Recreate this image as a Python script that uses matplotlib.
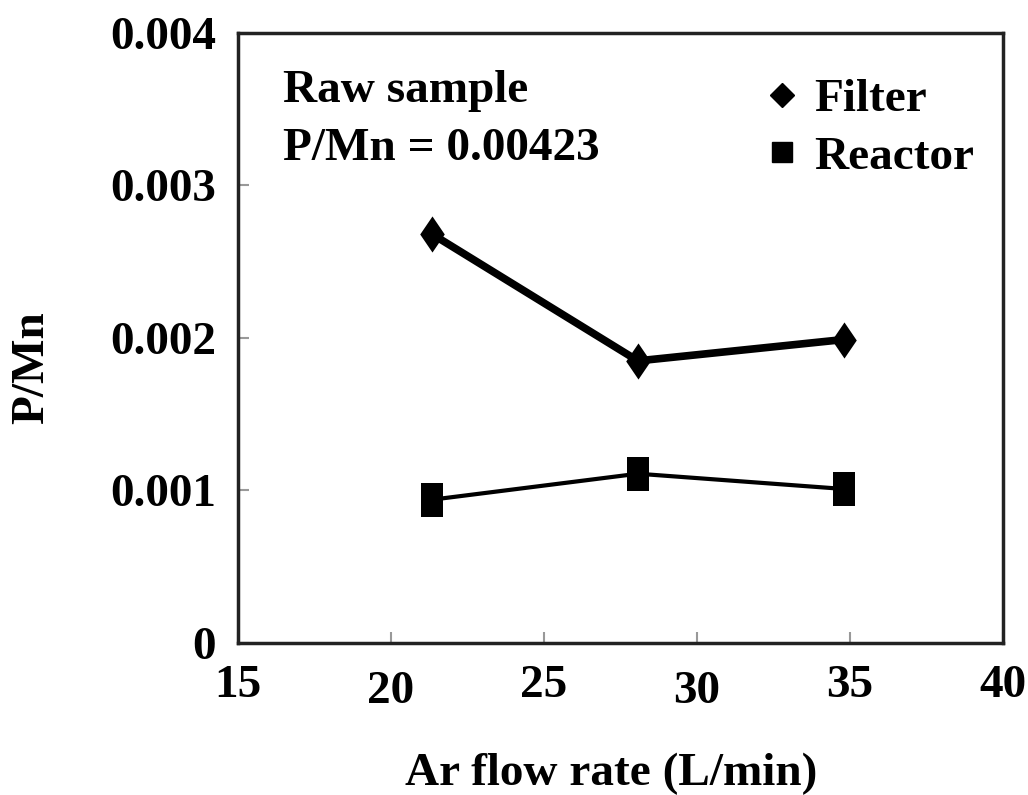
import matplotlib.pyplot as plt
from matplotlib.lines import Line2D

# data
flow_rate = [21.35, 28.07, 34.8]
filter_pmn = [0.00268, 0.00185, 0.00199]
reactor_pmn = [0.00094, 0.00111, 0.00101]
x_ticks = [15, 20, 25, 30, 35, 40]
y_ticks = [0, 0.001, 0.002, 0.003, 0.004]
y_tick_labels = ["0", "0.001", "0.002", "0.003", "0.004"]

plt.rcParams['font.family'] = ['Liberation Serif', 'DejaVu Serif']
plt.rcParams['font.weight'] = 'bold'
FS = 34

# the markers in the picture are stretched vertically
tall_diamond = [(0, 1), (0.68, 0), (0, -1), (-0.68, 0), (0, 1)]
tall_square = [(-0.62, -1), (0.62, -1), (0.62, 1), (-0.62, 1), (-0.62, -1)]

fig = plt.figure(figsize=(10.28, 7.95), dpi=100)
ax = fig.add_axes([0.2315, 0.1912, 0.7442, 0.7673])

ax.plot(flow_rate, filter_pmn, color="black", lw=5.5, marker=tall_diamond,
        markersize=26, markeredgewidth=0, zorder=3)
ax.plot(flow_rate, reactor_pmn, color="black", lw=3, marker=tall_square,
        markersize=25, markeredgewidth=0, zorder=3)

ax.set_xlim(15, 40)
ax.set_ylim(0, 0.004)
ax.set_xticks(x_ticks)
ax.set_yticks(y_ticks)
ax.set_yticklabels(y_tick_labels)

for s in ax.spines.values():
    s.set_linewidth(2.5)
    s.set_color("#222222")

ax.tick_params(axis="both", direction="in", length=8, width=1.5,
               color="#999999", labelsize=FS)
ax.tick_params(axis="x", pad=16)
ax.tick_params(axis="y", pad=16)
for lab in ax.get_xticklabels() + ax.get_yticklabels():
    lab.set_fontweight("bold")

# 20 and 30 sit a little lower than the other x tick labels
for i, lab in enumerate(ax.get_xticklabels()):
    if x_ticks[i] in (20, 30):
        lab.set_y(-0.009)

fig.text(0.595, 10 / 795, "Ar flow rate (L/min)", ha="center", va="baseline",
         fontsize=FS, fontweight="bold")
fig.text(0.031, 0.537, "P/Mn", ha="center", va="center", rotation=90,
         fontsize=FS, fontweight="bold")

ax.text(0.059, 0.887, "Raw sample", transform=ax.transAxes, fontsize=FS,
        fontweight="bold", va="baseline")
ax.text(0.059, 0.792, "P/Mn = 0.00423", transform=ax.transAxes, fontsize=FS,
        fontweight="bold", va="baseline")

handles = [
    Line2D([], [], color="black", marker="D", linestyle="none", markersize=12),
    Line2D([], [], color="black", marker="s", linestyle="none", markersize=15),
]
ax.legend(handles, ["Filter", "Reactor"], loc="upper right",
          bbox_to_anchor=(1.0, 0.972), frameon=False,
          handlelength=0.8, handletextpad=0.3, labelspacing=0.3,
          borderaxespad=0.2, prop={"weight": "bold", "size": FS})

fig.savefig("out.png", dpi=100)
